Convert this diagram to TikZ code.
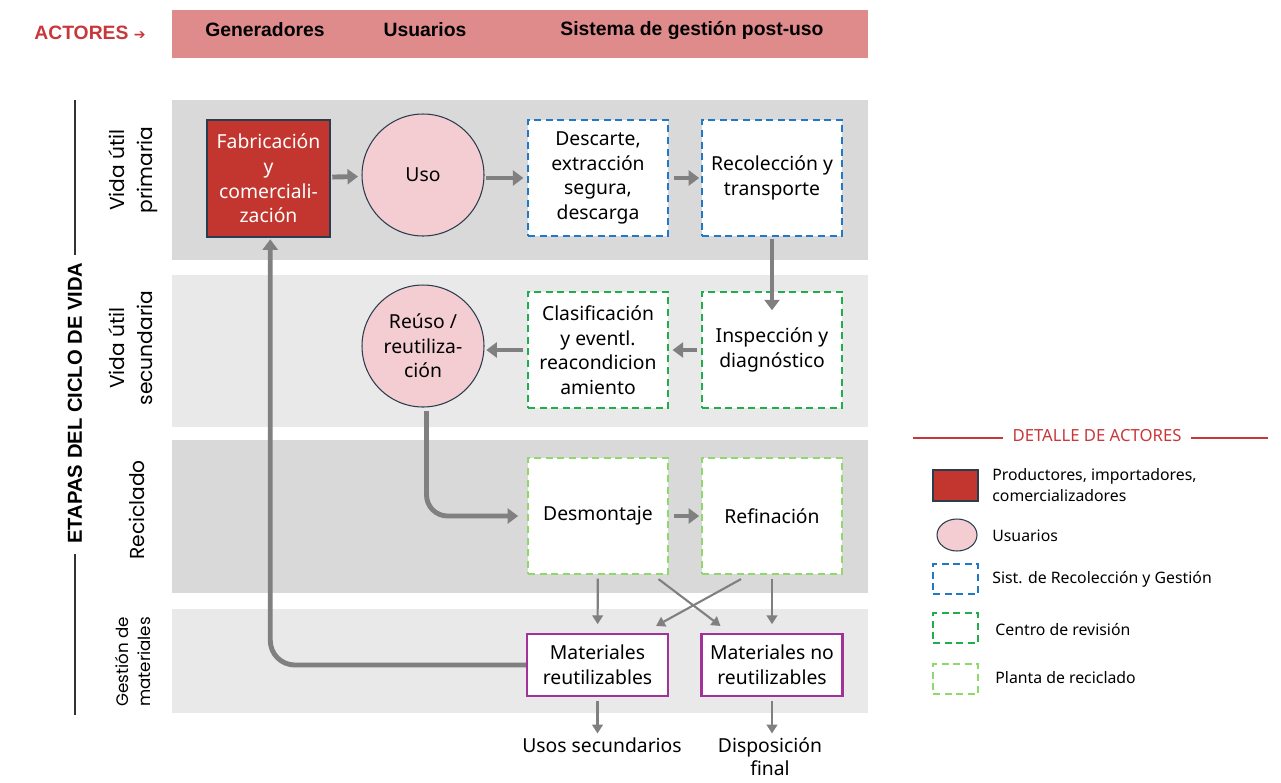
\documentclass[tikz,border=0pt]{standalone}
\usepackage{fontspec}
\setmainfont{Noto Sans}
\newfontfamily\hdrfont{Liberation Sans}
\newfontfamily\rowfont{Poppins}
\newfontfamily\symfont{DejaVu Sans}
\usetikzlibrary{arrows.meta,shapes.geometric}
\definecolor{hdrpink}{HTML}{DF8B8C}
\definecolor{actred}{HTML}{C8373A}
\definecolor{fabred}{HTML}{C3352F}
\definecolor{userpink}{HTML}{F3CDD2}
\definecolor{rowdark}{HTML}{D9D9D9}
\definecolor{rowlight}{HTML}{E9E9E9}
\definecolor{sysblue}{HTML}{1F78C8}
\definecolor{revgreen}{HTML}{1FAE4B}
\definecolor{recgreen}{HTML}{8FD96A}
\definecolor{matpurple}{HTML}{A0329A}
\definecolor{arrowgray}{HTML}{808080}
\definecolor{outline}{HTML}{2A3D4D}

\begin{document}
\begin{tikzpicture}[x=0.02cm,y=-0.02cm,
    txt/.style={font=\fontsize{11}{14}\selectfont, align=center, inner sep=0pt},
    hdr/.style={font=\hdrfont\bfseries\fontsize{11}{13}\selectfont, inner sep=0pt},
    rowlabel/.style={font=\rowfont\fontsize{11.5}{16}\selectfont, align=center, rotate=90, inner sep=0pt},
    stagebox/.style={txt, rectangle, fill=white, minimum width=2.8cm, minimum height=2.32cm,
        line width=1.2pt, dash pattern=on 4pt off 2.6pt},
    userdot/.style={txt, circle, fill=userpink, draw=outline, line width=0.6pt, minimum size=2.44cm},
    matbox/.style={txt, rectangle, fill=white, draw=matpurple, line width=1.2pt,
        minimum width=2.82cm, minimum height=1.24cm},
    legbox/.style={rectangle, minimum width=0.9cm, minimum height=0.6cm, line width=1.2pt,
        dash pattern=on 4pt off 2.6pt},
    legtext/.style={font=\fontsize{9}{12}\selectfont, align=left, anchor=west, inner sep=0pt},
    bigarrow/.style={draw=arrowgray, line width=2.8pt, -{Triangle[length=6pt,width=8.5pt]}},
    thinarrow/.style={draw=arrowgray, line width=1.2pt, -{Triangle[length=5pt,width=6pt]}}]
    \useasboundingbox (0,0) rectangle (1281,782);

    \fill [hdrpink] (172,10) rectangle (868,58);
    \fill [rowdark] (172,100) rectangle (868,260);
    \fill [rowlight] (172,275) rectangle (868,427);
    \fill [rowdark] (172,440) rectangle (868,593);
    \fill [rowlight] (172,609) rectangle (868,713);

    \node [text=actred, font=\hdrfont\bfseries\fontsize{11}{13}\selectfont, inner sep=0pt] (act) at (90,33) {ACTORES {\symfont\fontsize{8}{10}\selectfont ➔}};
    \node [hdr] (gen) at (265,30) {Generadores};
    \node [hdr] (usu) at (425,30) {Usuarios};
    \node [hdr] (sis) at (692,30) {Sistema de gestión post-uso};

    \node [font=\hdrfont\bfseries\fontsize{11.5}{13}\selectfont, rotate=90, inner sep=0pt] (etapas) at (75,403) {ETAPAS DEL CICLO DE VIDA};
    \draw [black!80, line width=0.8pt] (75,100) -- ([yshift=4pt]etapas.east);
    \draw [black!80, line width=0.8pt] ([yshift=-6pt]etapas.west) -- (75,715);

    \node [rowlabel] (prim) at (133,170) {Vida útil\\primaria};
    \node [rowlabel] (secu) at (131,348) {Vida útil\\secundaria};
    \node [rowlabel] (reci) at (137,510) {Reciclado};
    \node [rowlabel, font=\rowfont\fontsize{9.5}{12}\selectfont] (gest) at (133,662) {Gestión de\\materiales};

    \node [txt, rectangle, fill=fabred, draw=outline, line width=0.6pt, text=white,
        minimum width=2.46cm, minimum height=2.34cm] (fab) at (268.5,178.5) {Fabricación\\y\\comerciali-\\zación};
    \node [userdot] (uso) at (423,175) {Uso};
    \node [stagebox, draw=sysblue] (desc) at (598,178) {Descarte,\\extracción\\segura,\\descarga};
    \node [stagebox, draw=sysblue] (recol) at (772,178) {Recolección y\\transporte};
    \node [stagebox, draw=revgreen] (insp) at (772,350) {Inspección y\\diagnóstico};
    \node [stagebox, draw=revgreen] (clas) at (598,350) {Clasificación\\y eventl.\\reacondicion\\amiento};
    \node [userdot] (reuso) at (423,346) {Reúso /\\reutiliza-\\ción};
    \node [stagebox, draw=recgreen] (desm) at (598,516) {Desmontaje};
    \node [stagebox, draw=recgreen] (refi) at (772,516) {Refinación};
    \node [matbox] (matr) at (597.5,665) {Materiales\\reutilizables};
    \node [matbox] (matnr) at (772,665) {Materiales no\\reutilizables};
    \node [txt, anchor=north] (usos) at (602,737) {Usos secundarios};
    \node [txt, anchor=north, font=\fontsize{11}{13.5}\selectfont] (disp) at (770,737) {Disposición\\final};

    \draw [bigarrow, shorten <=1pt, shorten >=2pt] (fab) -- (uso);
    \draw [bigarrow, shorten <=1pt, shorten >=2pt] (uso.east |- desc.west) -- (desc.west);
    \draw [bigarrow, shorten <=3pt, shorten >=1pt] (desc) -- (recol);
    \draw [bigarrow, shorten <=1pt, shorten >=-11pt] (recol) -- (insp);
    \draw [bigarrow, shorten <=2pt, shorten >=2pt] (insp) -- (clas);
    \draw [bigarrow, shorten <=2pt, shorten >=1pt] (clas) -- (reuso.east |- clas.west);
    \draw [bigarrow, rounded corners=12pt, shorten <=2pt, shorten >=5pt] ([xshift=2pt]reuso.south) |- (desm.west);
    \draw [bigarrow, shorten <=3pt, shorten >=1pt] (desm) -- (refi);
    \draw [bigarrow, rounded corners=14pt, shorten >=1pt] (matr.west) -| ([xshift=1pt]fab.south);

    \draw [thinarrow, shorten <=2pt, shorten >=5pt] (desm) -- (matr);
    \draw [thinarrow, shorten <=2pt, shorten >=5pt] (refi) -- (matnr);
    \draw [thinarrow] ([xshift=-6pt,yshift=-2.3pt]desm.south east) -- ([xshift=11.4pt,yshift=4pt]matnr.north west);
    \draw [thinarrow] ([xshift=22.8pt,yshift=-2.3pt]refi.south west) -- ([xshift=-7.4pt,yshift=4pt]matr.north east);
    \draw [thinarrow, shorten <=2pt, shorten >=2pt] (matr.south) -- (matr.south |- usos.north);
    \draw [thinarrow, shorten <=2pt, shorten >=2pt] (matnr.south) -- (matnr.south |- disp.north);

    \node [text=actred, font=\fontsize{9.5}{12}\selectfont, inner sep=0pt] (legt) at (1097,436) {DETALLE DE ACTORES};
    \draw [actred, line width=0.7pt] (913,438) -- ([xshift=-5pt]legt.west |- 0,438);
    \draw [actred, line width=0.7pt] ([xshift=5pt]legt.east |- 0,438) -- (1268,438);

    \node [rectangle, fill=fabred, draw=outline, line width=0.6pt, minimum width=0.9cm, minimum height=0.62cm] (lprod) at (955.5,485.5) {};
    \node [legtext] (tprod) at (992,485) {Productores, importadores,\\comercializadores};
    \node [ellipse, fill=userpink, draw=outline, line width=0.6pt, minimum width=0.8cm, minimum height=0.64cm] (lusu) at (957,535) {};
    \node [legtext] (tusu) at (992,536) {Usuarios};
    \node [legbox, draw=sysblue] (lsis) at (955.5,579) {};
    \node [legtext] (tsis) at (992,579) {Sist. de Recolección y Gestión};
    \node [legbox, draw=revgreen] (lrev) at (955.5,628) {};
    \node [legtext] (trev) at (995,630) {Centro de revisión};
    \node [legbox, draw=recgreen] (lrec) at (955.5,679) {};
    \node [legtext] (trec) at (995,678) {Planta de reciclado};
\end{tikzpicture}
\end{document}
